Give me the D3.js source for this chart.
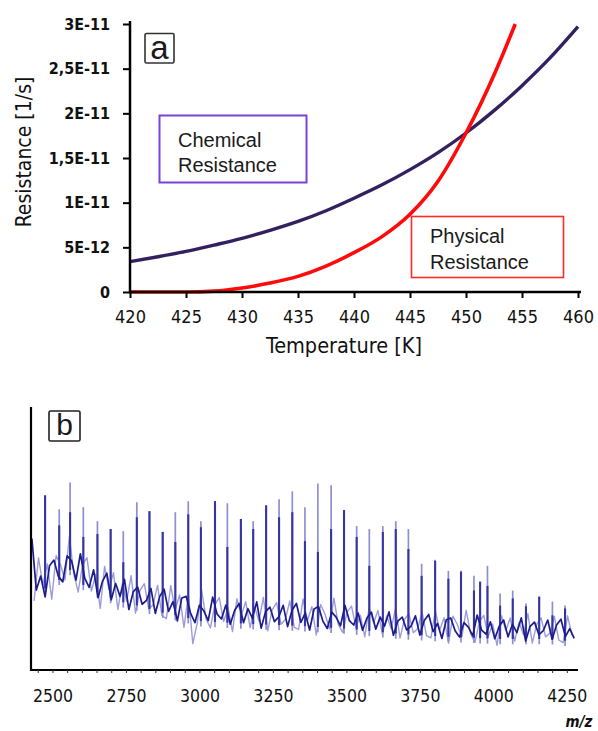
<!DOCTYPE html>
<html><head><meta charset="utf-8">
<script src="https://cdn.jsdelivr.net/npm/d3@7"></script>
<style>body{margin:0;background:#fff;} svg{display:block}</style>
</head><body>
<svg id="c" width="598" height="731"></svg>
<script>
// ---------- Panel a data ----------
const tempChem = [420,422.5,425,427.5,430,432.5,435,437.5,440,442.5,445,447.5,450,452.5,455,457.5,460];
const chemValues = [3.40e-12,3.95e-12,4.55e-12,5.25e-12,6.0e-12,6.9e-12,7.9e-12,9.1e-12,1.05e-11,1.20e-11,1.37e-11,1.56e-11,1.78e-11,2.03e-11,2.31e-11,2.62e-11,2.97e-11];
const tempPhys = [420,425,427.5,430,432.5,435,437.5,440,442.5,445,447.5,450,452.5,454.4];
const physValues = [0,0,0.1e-12,0.45e-12,1.0e-12,1.75e-12,2.9e-12,4.4e-12,6.2e-12,8.7e-12,1.24e-11,1.78e-11,2.43e-11,3.0e-11];
const tempTicks = [420,425,430,435,440,445,450,455,460];
const resTicks = [0,5e-12,1e-11,1.5e-11,2e-11,2.5e-11,3e-11];
const resTickLabels = ["0","5E-12","1E-11","1,5E-11","2E-11","2,5E-11","3E-11"];

// ---------- Panel b data ----------
const mzTicks = [2500,2750,3000,3250,3500,3750,4000,4250];
const peakMz = [2475,2523,2560,2605,2653,2698,2741,2787,2830,2875,2918,2962,3005,3053,3095,3141,3183,3227,3271,3316,3359,3403,3448,3492,3535,3578,3624,3668,3711,3756,3802,3847,3890,3934,3955,3980,4023,4066,4111,4156,4201,4244];
const peakTop = [66.4,61.1,71.3,61.9,56.6,53.6,52.8,63.8,60.4,52.5,60,64.2,56.6,64.2,63.4,57.4,56.6,62.6,64.9,67.9,61.9,70.9,70.2,60.8,54.7,53.6,54.7,56.6,53.6,40.4,41.9,37.7,37.7,35.8,33.6,39.6,29.1,30.2,25.3,27.9,26,24.5];
const peakDark = [66.4,55,60,50.6,51.7,53.6,41,58.1,60.4,52.5,48.7,59.2,54.3,64.2,46.8,57.4,53.6,62.6,58.1,60,49,44.9,53.6,60.8,50.6,39.6,52.5,53.6,46,35.8,41.5,34.7,37.4,30.2,33.6,32,24.5,27.2,24.2,27.9,20.8,23.4];
const baseMz = [2430,2475,2526,2560,2594,2662,2730,2798,2866,2934,3002,3172,3342,3512,3683,3853,4023,4193,4278];
const baseLevel = [33,35,38.5,42,37,33,30,28.3,26,24.5,22.6,21.5,20.8,19.6,17.7,16.6,15.8,15.8,14.7];
const noiseStartMz = 2430, noiseStepMz = 15;
const noiseDark = [50,30.4,35.7,27.8,39.6,41.8,35.6,33.5,43.4,41.5,34.2,44.2,34.8,31.4,38.1,27.5,33.7,36.8,26.7,32.9,28,34.5,23,29.8,31.5,25,26.5,31,21.5,28,30.7,22.3,26,18.7,27.4,28,21.5,18,24.6,22.5,18.8,27.7,21.3,19.4,24.7,17.4,22.7,25.3,18,23.3,19.7,25.9,15.9,22.2,23.9,18.4,20.2,24.6,16.5,22.7,25.3,18.1,21.6,15.2,23.2,24.1,18.6,15.8,22,20.1,16.8,24.6,18.8,17.1,21.7,15.1,19.8,22,15.5,20.1,16.7,22.1,13.2,18.6,20.1,15.2,16.7,20.6,13.3,18.8,21.1,14.6,17.7,12,19.1,19.8,14.9,12.5,18,16.3,13,20.9,15.2,13.6,18.3,11.9,16.6,19,12.6,17.4,14.2,19.8,11,16.6,18.2,13.4,15,19,11.7,17.1,19.3,12.7,15.7,12];
const noiseLight = [26.3,42.6,32.4,40.3,26.9,43.5,40,34.2,50.8,36.6,29.6,40.1,42.7,30,36.4,23.4,39.4,30.6,37,23,32.8,26.2,35.9,21.6,30.2,32.8,23.2,24.8,32.2,20.8,19.5,32.1,22.8,28.5,16.2,28.8,10,17.8,30.5,19.4,16,24.9,27.5,18.4,23.7,14.6,27.1,20.7,26,16.1,24.1,18.6,27.6,14.9,22.9,25.6,17.4,19.2,26.3,16.3,15.4,27,18.8,24.1,13.3,24.9,21.2,15.7,27.3,17.3,14.3,22.1,24.3,16.2,20.8,12.6,23.7,17.9,22.6,13.6,20.6,15.6,23.5,12.1,19.2,21.5,14.2,15.7,22,13.1,12.2,22.5,15.2,19.9,10.2,20.5,17.3,12.4,22.7,13.8,10.5,18.4,20.8,12.7,17.5,9.4,20.6,15,19.8,11,18.2,13.4,21.4,10.2,17.4,19.8,12.6,14.1,20.4,11.4,10.4,20.6,13.2];

const svg = d3.select("#c");
const condensed = "'DejaVu Sans Condensed','DejaVu Sans',sans-serif";
const arial = "'Liberation Sans',Arial,sans-serif";

// ================= Panel a =================
const xa = d3.scaleLinear().domain([420,460]).range([130,578]);
const ya = d3.scaleLinear().domain([0,3e-11]).range([292,24]);

const gA = svg.append("g");
const lineA = (xs) => d3.line().x((d,i)=>xa(xs[i])).y(d=>ya(d)).curve(d3.curveMonotoneX);
gA.append("path").datum(chemValues).attr("d", lineA(tempChem))
  .attr("fill","none").attr("stroke","#33205e").attr("stroke-width",3.4);
gA.append("path").datum(physValues).attr("d", lineA(tempPhys))
  .attr("fill","none").attr("stroke","#ff0a0a").attr("stroke-width",3.6);

// y axis
const yAxisA = d3.axisLeft(ya).tickValues(resTicks).tickSize(7).tickSizeOuter(0).tickPadding(13)
  .tickFormat((d,i)=>resTickLabels[i]);
const gya = gA.append("g").attr("transform","translate(130,0)").call(yAxisA);
gya.select(".domain").attr("stroke","#000").attr("stroke-width",2.5).attr("d","M0,293V21");
gya.selectAll(".tick line").attr("stroke","#000").attr("stroke-width",2);
gya.selectAll(".tick text").attr("font-family",condensed).attr("font-weight","bold")
  .attr("font-size",16).attr("fill","#111");

// x axis
const xAxisA = d3.axisBottom(xa).tickValues(tempTicks).tickSize(6).tickSizeOuter(0).tickPadding(12);
const gxa = gA.append("g").attr("transform","translate(0,292)").call(xAxisA);
gxa.select(".domain").attr("stroke","#000").attr("stroke-width",2.5).attr("d","M129,0H581");
gxa.selectAll(".tick line").attr("stroke","#000").attr("stroke-width",2);
gxa.selectAll(".tick text").attr("font-family",condensed).attr("font-size",18).attr("fill","#111");

// axis titles
gA.append("text").attr("x",344).attr("y",353).attr("text-anchor","middle")
  .attr("font-family",condensed).attr("font-size",21.5).attr("fill","#111").text("Temperature [K]");
gA.append("text").attr("transform","translate(31,152) rotate(-90)").attr("text-anchor","middle")
  .attr("font-family",condensed).attr("font-size",21).attr("fill","#111").text("Resistance [1/s]");

// annotation boxes
gA.append("rect").attr("x",159.5).attr("y",115.5).attr("width",147).attr("height",67)
  .attr("fill","#fff").attr("stroke","#7a42d6").attr("stroke-width",2);
gA.append("text").attr("x",178).attr("y",147).attr("font-family",arial).attr("font-size",20).attr("fill","#1a1a1a").text("Chemical");
gA.append("text").attr("x",178).attr("y",172).attr("font-family",arial).attr("font-size",20).attr("fill","#1a1a1a").text("Resistance");

gA.append("rect").attr("x",411.5).attr("y",216.5).attr("width",152).attr("height",61)
  .attr("fill","#fff").attr("stroke","#ff2a2a").attr("stroke-width",1.6);
gA.append("text").attr("x",430).attr("y",243).attr("font-family",arial).attr("font-size",20).attr("fill","#1a1a1a").text("Physical");
gA.append("text").attr("x",430).attr("y",269).attr("font-family",arial).attr("font-size",20).attr("fill","#1a1a1a").text("Resistance");

// panel label a
gA.append("rect").attr("x",145).attr("y",33.5).attr("width",29).attr("height",29.5)
  .attr("fill","#fff").attr("stroke","#333").attr("stroke-width",1.6).attr("rx",1.5);
gA.append("text").attr("x",159.5).attr("y",59).attr("text-anchor","middle")
  .attr("font-family",arial).attr("font-size",33).attr("fill","#1a1a1a").text("a");

// ================= Panel b =================
const xb = d3.scaleLinear().domain([2427,4288]).range([31,578]);
const yb = d3.scaleLinear().domain([0,100]).range([670,407]);
const gB = svg.append("g");

const baseAt = d3.scaleLinear().domain(baseMz).range(baseLevel);

// light noise trace
const lightLine = d3.line().x((d,i)=>xb(noiseStartMz + noiseStepMz/2 + i*noiseStepMz)).y(d=>yb(d));
gB.append("path").datum(noiseLight).attr("d",lightLine).attr("fill","none")
  .attr("stroke","#9c9cda").attr("stroke-width",1.4).attr("stroke-linejoin","round");

// peaks: light full height, dark lower part
gB.selectAll("line.pl").data(peakMz).join("line").attr("class","pl")
  .attr("x1",d=>xb(d)).attr("x2",d=>xb(d))
  .attr("y1",d=>yb(baseAt(d)-6)).attr("y2",(d,i)=>yb(peakTop[i]))
  .attr("stroke","#8e8ed4").attr("stroke-width",1.7);
gB.selectAll("line.pd").data(peakMz).join("line").attr("class","pd")
  .attr("x1",d=>xb(d)).attr("x2",d=>xb(d))
  .attr("y1",d=>yb(baseAt(d)-4)).attr("y2",(d,i)=>yb(peakDark[i]))
  .attr("stroke","#3434a2").attr("stroke-width",2.1);

// dark noise trace
const darkLine = d3.line().x((d,i)=>xb(noiseStartMz + i*noiseStepMz)).y(d=>yb(d));
gB.append("path").datum(noiseDark).attr("d",darkLine).attr("fill","none")
  .attr("stroke","#1c1c8c").attr("stroke-width",1.7).attr("stroke-linejoin","round");

// axes
const gyb = gB.append("g").attr("transform","translate(31,0)")
  .call(d3.axisLeft(yb).tickValues([]).tickSizeOuter(0));
gyb.select(".domain").attr("stroke","#000").attr("stroke-width",2.2).attr("d","M0,671V407");

const gxbMinor = gB.append("g").attr("transform","translate(0,670)")
  .call(d3.axisBottom(xb).tickValues(d3.range(2450,4288,50)).tickSize(3).tickSizeOuter(0).tickFormat(""));
gxbMinor.select(".domain").attr("stroke","#000").attr("stroke-width",2.2).attr("d","M30,0H578");
gxbMinor.selectAll(".tick line").attr("stroke","#333").attr("stroke-width",1);

const gxb = gB.append("g").attr("transform","translate(0,670)")
  .call(d3.axisBottom(xb).tickValues(mzTicks).tickSize(0).tickSizeOuter(0).tickPadding(20).tickFormat(d3.format("d")));
gxb.select(".domain").remove();
gxb.selectAll(".tick text").attr("font-family",condensed).attr("font-size",17.5).attr("fill","#111");

gB.append("text").attr("x",579).attr("y",727).attr("text-anchor","middle")
  .attr("font-family",condensed).attr("font-style","italic").attr("font-weight","bold")
  .attr("font-size",15).attr("fill","#111").text("m/z");

// panel label b
gB.append("rect").attr("x",49).attr("y",411).attr("width",31).attr("height",30)
  .attr("fill","#fff").attr("stroke","#222").attr("stroke-width",1.6).attr("rx",1.5);
gB.append("text").attr("x",64.5).attr("y",435).attr("text-anchor","middle")
  .attr("font-family",arial).attr("font-size",30).attr("fill","#1a1a1a").text("b");
</script>
</body></html>
